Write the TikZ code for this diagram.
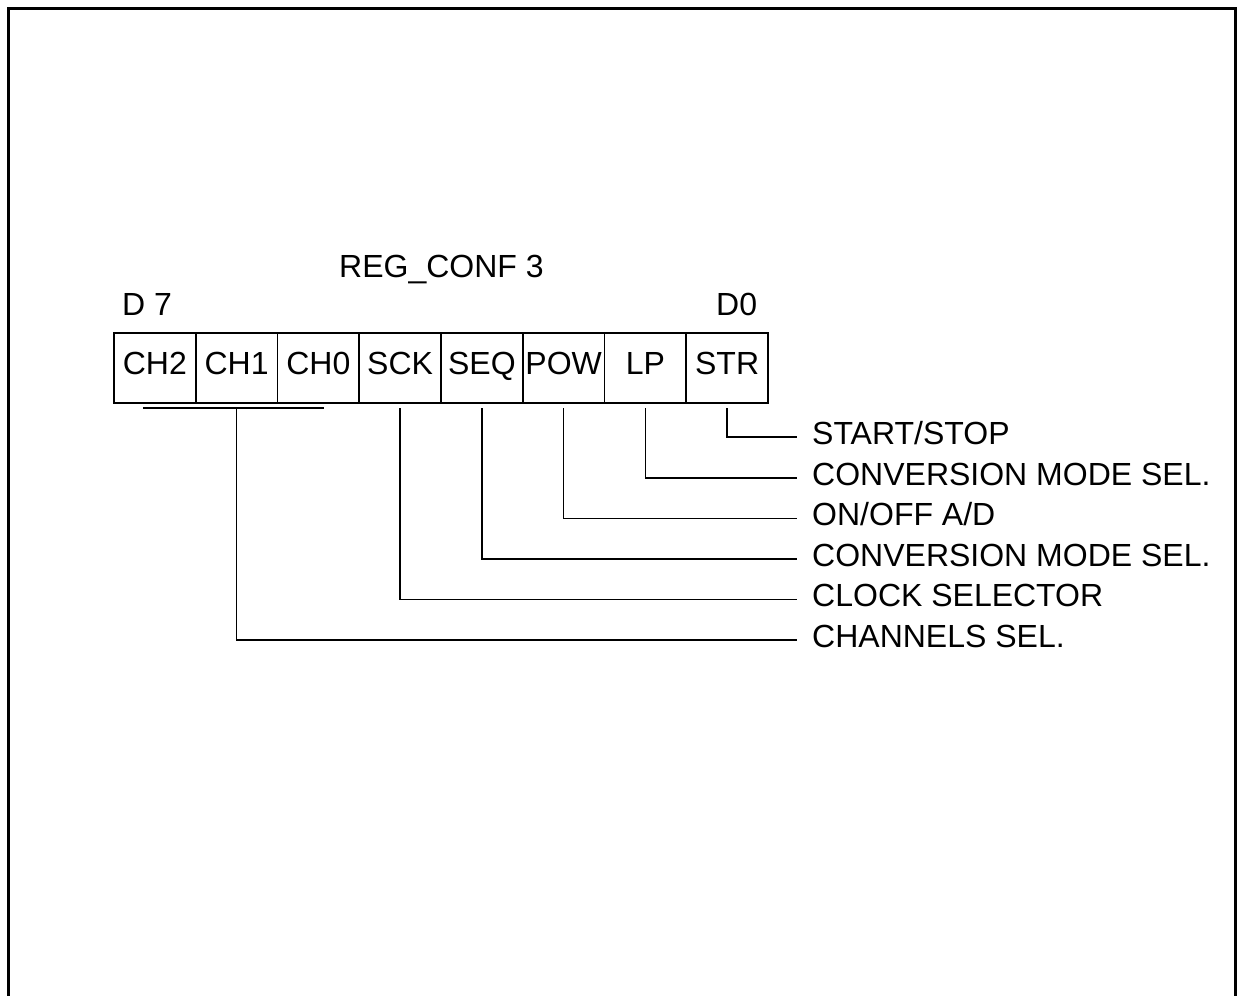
\documentclass[tikz,border=0pt]{standalone}
\usepackage{fontspec}
\setmainfont{Liberation Sans}
\begin{document}
\begin{tikzpicture}[x=1pt,y=-1pt,
  font=\fontsize{32pt}{38pt}\selectfont,
  cell/.style={draw,line width=1.6pt,minimum width=81.75pt,minimum height=70pt,
    inner sep=0pt,outer sep=0pt,text height=23pt,text depth=11pt,anchor=west},
  lbl/.style={anchor=west,inner xsep=15pt,inner ysep=0pt,text height=23pt,text depth=9pt},
  plain/.style={anchor=base west,inner sep=0pt},
  leader/.style={line width=1.5pt}]
\useasboundingbox (0,0) rectangle (1237,996);
% outer frame (open at the bottom)
\draw[line width=3pt] (8.5,996) -- (8.5,8.5) -- (1235.5,8.5) -- (1235.5,996);
% titles
\node[plain] (title) at (339,277) {REG\_CONF 3};
\node[plain] (d7) at (122,315) {D 7};
\node[plain] (d0) at (716,315) {D0};
% register cells
\node[cell] (c7) at (114,368) {CH2};
\node[cell] (c6) at (c7.east) {CH1};
\node[cell] (c5) at (c6.east) {CH0};
\node[cell] (c4) at (c5.east) {SCK};
\node[cell] (c3) at (c4.east) {SEQ};
\node[cell] (c2) at (c3.east) {POW};
\node[cell] (c1) at (c2.east) {LP};
\node[cell] (c0) at (c1.east) {STR};
% labels
\node[lbl] (l0) at (797,437) {START/STOP};
\node[lbl] (l1) at (797,478) {CONVERSION MODE SEL.};
\node[lbl] (l2) at (797,518.5) {ON/OFF A/D};
\node[lbl] (l3) at (797,559) {CONVERSION MODE SEL.};
\node[lbl] (l4) at (797,599.5) {CLOCK SELECTOR};
\node[lbl] (l5) at (797,640) {CHANNELS SEL.};
% bracket under the channel bits
\coordinate (bl) at ([xshift=-12pt,yshift=-5pt]c7.south);
\coordinate (br) at ([xshift=6pt,yshift=-5pt]c5.south);
\draw[leader] (bl) -- (br);
% leaders
\draw[leader] ([yshift=-5pt]c0.south) |- (l0.west);
\draw[leader] ([yshift=-5pt]c1.south) |- (l1.west);
\draw[leader] ([yshift=-5pt]c2.south) |- (l2.west);
\draw[leader] ([yshift=-5pt]c3.south) |- (l3.west);
\draw[leader] ([yshift=-5pt]c4.south) |- (l4.west);
\draw[leader] ([yshift=-5pt]c6.south) |- (l5.west);
\end{tikzpicture}
\end{document}
